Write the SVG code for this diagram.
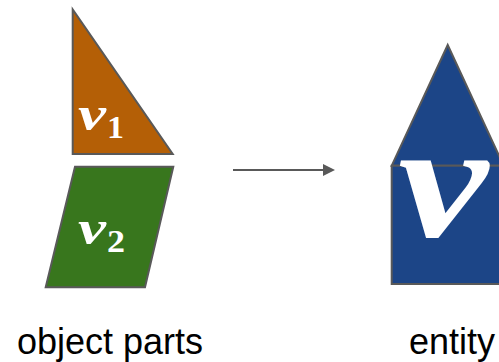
<svg xmlns="http://www.w3.org/2000/svg" width="499" height="362" viewBox="0 0 499 362">
<style>
.shape{stroke:#595959;stroke-width:2;stroke-linejoin:miter}
.math{font-family:"Liberation Serif","DejaVu Serif",serif;font-style:italic;font-weight:bold;fill:#ffffff}
.sub{font-family:"Liberation Serif","DejaVu Serif",serif;font-weight:bold;fill:#ffffff}
.label{font-family:"Liberation Sans",Arial,sans-serif;font-size:36px;fill:#000000}
</style>
<defs>
<marker id="arr" markerWidth="6" markerHeight="6" refX="5" refY="3" orient="auto" markerUnits="strokeWidth">
<path d="M0,0 L6,3 L0,6 Z" fill="#595959"/>
</marker>
</defs>
<rect width="499" height="362" fill="#ffffff"/>
<g id="part-v1">
<polygon class="shape" points="72.7,9.5 72.7,154 172.7,154" fill="#b45f06"/>
<text class="math" x="78" y="130" font-size="48" textLength="28" lengthAdjust="spacingAndGlyphs">v</text>
<text class="sub" x="107" y="138" font-size="31" textLength="17" lengthAdjust="spacingAndGlyphs">1</text>
</g>
<g id="part-v2">
<polygon class="shape" points="75,166.7 173.3,166.7 145,287.3 45.7,287.3" fill="#38761d"/>
<text class="math" x="78" y="244" font-size="48" textLength="28" lengthAdjust="spacingAndGlyphs">v</text>
<text class="sub" x="107" y="252" font-size="31" textLength="18" lengthAdjust="spacingAndGlyphs">2</text>
</g>
<g id="connectors">
<line x1="233" y1="170" x2="333" y2="170" stroke="#595959" stroke-width="2" marker-end="url(#arr)"/>
</g>
<g id="entity">
<polygon class="shape" points="447.7,45 391.7,165.7 503.7,165.7" fill="#1c4587"/>
<rect class="shape" x="391.7" y="165.7" width="112" height="118.3" fill="#1c4587"/>
<text class="math" x="398" y="236" font-size="165" fill="#fbfdf3" textLength="90" lengthAdjust="spacingAndGlyphs">v</text>
</g>
<g id="labels">
<text class="label" x="17" y="354">object parts</text>
<text class="label" x="409" y="354">entity</text>
</g>
</svg>
